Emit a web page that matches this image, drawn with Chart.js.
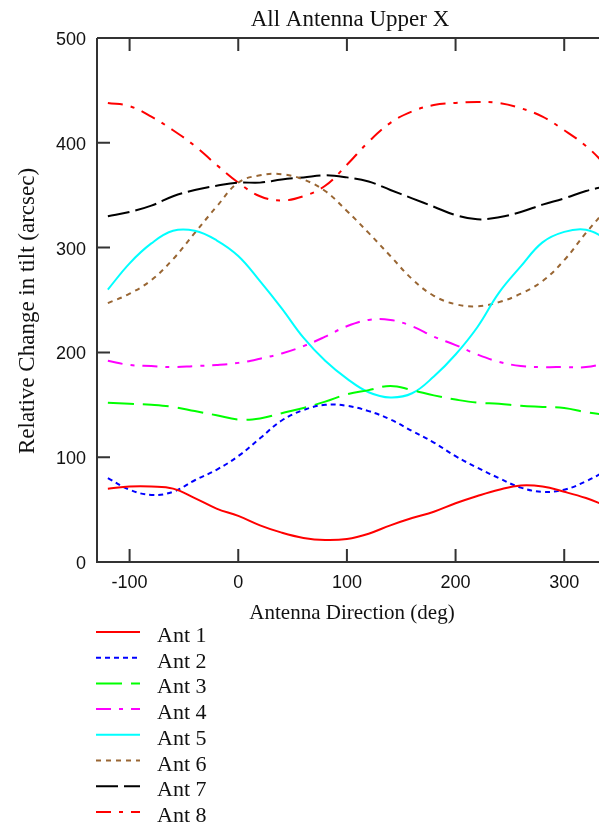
<!DOCTYPE html>
<html>
<head>
<meta charset="utf-8">
<script src="https://cdn.jsdelivr.net/npm/chart.js@4.4.1/dist/chart.umd.min.js"></script>
<style>
  html, body { margin: 0; padding: 0; background: #fff; }
  #wrap { position: relative; width: 599px; height: 823px; }
</style>
</head>
<body>
<div id="wrap"><canvas id="chart"></canvas></div>
<script>
// antenna direction (deg)
const directions = [-120, -100, -80, -60, -40, -20, 0, 20, 40, 60, 80, 100, 120, 140, 160, 180, 200, 220, 240, 260, 280, 300, 320, 340];

// relative change in tilt (arcsec)
const ant1 = [70, 72, 72, 70, 61, 51, 44, 35, 28, 23, 21, 22, 27, 35, 42, 48, 56, 63, 69, 73, 72, 67, 61, 53];
const ant2 = [80, 69, 64, 67, 78, 88, 101, 118, 135, 145, 150, 149, 144, 136, 125, 114, 101, 90, 80, 71, 67, 69, 77, 88];
const ant3 = [152, 151, 150, 148, 144, 140, 136, 137, 142, 147, 153, 160, 164, 168, 164, 159, 155, 152, 151, 149, 148, 147, 143, 140];
const ant4 = [192, 188, 187, 186, 187, 188, 190, 194, 199, 206, 215, 225, 231, 231, 225, 215, 207, 198, 191, 187, 186, 186, 186, 190];
const ant5 = [260, 285, 304, 316, 316, 307, 292, 268, 242, 214, 192, 175, 162, 157, 161, 177, 198, 224, 257, 282, 305, 315, 317, 308];
const ant6 = [247, 256, 269, 289, 314, 339, 362, 369, 370, 365, 354, 335, 314, 292, 270, 254, 246, 244, 248, 256, 268, 288, 314, 338];
const ant7 = [330, 334, 340, 349, 355, 359, 362, 362, 365, 367, 369, 367, 363, 355, 347, 339, 331, 327, 329, 334, 341, 347, 354, 359];
const ant8 = [438, 435, 425, 412, 397, 379, 362, 349, 345, 349, 359, 379, 401, 419, 430, 436, 438, 439, 438, 433, 425, 412, 397, 377];

const seriesNames = ['Ant 1', 'Ant 2', 'Ant 3', 'Ant 4', 'Ant 5', 'Ant 6', 'Ant 7', 'Ant 8'];
const seriesValues = [ant1, ant2, ant3, ant4, ant5, ant6, ant7, ant8];
const seriesColors = ['#ff0000', '#0000ff', '#00ff00', '#ff00ff', '#00ffff', '#996633', '#000000', '#ff0000'];
const seriesDashes = [[], [5, 4], [26, 9], [15, 8, 4, 8], [], [5, 5], [22, 6], [15, 8, 4, 8]];

const xTicks = [-100, 0, 100, 200, 300];
const yTicks = [0, 100, 200, 300, 400, 500];

const serif = '"Liberation Serif", "Times New Roman", serif';
const axisColor = '#333';

const datasets = seriesNames.map((name, i) => ({
  label: name,
  data: directions.map((d, j) => ({ x: d, y: seriesValues[i][j] })),
  borderColor: seriesColors[i],
  borderDash: seriesDashes[i],
  borderWidth: 2,
  pointRadius: 0,
  tension: 0.4,
  fill: false
}));

// frame, inward ticks, titles and the legend
const decorations = {
  id: 'decorations',
  afterDraw(chart) {
    const { ctx, chartArea: a, scales: { x, y } } = chart;
    ctx.save();
    ctx.strokeStyle = axisColor;
    ctx.lineWidth = 2;
    ctx.setLineDash([]);
    ctx.beginPath();
    ctx.moveTo(a.left, a.top); ctx.lineTo(a.right, a.top);
    ctx.moveTo(a.left, a.top); ctx.lineTo(a.left, a.bottom);
    ctx.lineTo(a.right, a.bottom);
    const tl = 13;
    xTicks.forEach(v => {
      const px = x.getPixelForValue(v);
      ctx.moveTo(px, a.bottom); ctx.lineTo(px, a.bottom - tl);
      ctx.moveTo(px, a.top); ctx.lineTo(px, a.top + tl);
    });
    yTicks.forEach(v => {
      const py = y.getPixelForValue(v);
      ctx.moveTo(a.left, py); ctx.lineTo(a.left + tl, py);
    });
    ctx.stroke();

    ctx.fillStyle = '#111';
    ctx.textAlign = 'center';
    ctx.textBaseline = 'alphabetic';
    const cx = (a.left + a.right) / 2;
    ctx.font = '23px ' + serif;
    ctx.fillText('All Antenna Upper X', cx + 2, 26);
    ctx.font = '21px ' + serif;
    ctx.fillText('Antenna Direction (deg)', cx + 4, 619);

    ctx.save();
    ctx.translate(34, 311);
    ctx.rotate(-Math.PI / 2);
    ctx.font = '23px ' + serif;
    ctx.fillText('Relative Change in tilt (arcsec)', 0, 0);
    ctx.restore();

    // legend
    ctx.textAlign = 'left';
    ctx.font = '22px ' + serif;
    seriesNames.forEach((name, i) => {
      const ly = 632 + i * 25.7;
      ctx.strokeStyle = seriesColors[i];
      ctx.setLineDash(seriesDashes[i]);
      ctx.lineWidth = 2;
      ctx.beginPath();
      ctx.moveTo(96, ly); ctx.lineTo(140, ly);
      ctx.stroke();
      ctx.fillStyle = '#111';
      ctx.fillText(name, 157, ly + 10);
    });
    ctx.restore();
  }
};

new Chart(document.getElementById('chart').getContext('2d'), {
  type: 'line',
  data: { datasets },
  options: {
    responsive: true,
    maintainAspectRatio: false,
    animation: false,
    layout: { padding: { top: 38, left: 0, right: 0, bottom: 0 } },
    plugins: {
      legend: { display: false },
      title: { display: false },
      tooltip: { enabled: false }
    },
    scales: {
      x: {
        type: 'linear',
        min: -130,
        max: 332,
        grid: { display: false, drawTicks: false },
        border: { display: false },
        ticks: {
          stepSize: 100,
          includeBounds: false,
          padding: 10,
          color: '#111',
          font: { family: '"Liberation Sans", Arial, sans-serif', size: 18 }
        },
        afterFit(scale) { scale.height = 261; }
      },
      y: {
        min: 0,
        max: 500,
        grid: { display: false, drawTicks: false },
        border: { display: false },
        ticks: {
          stepSize: 100,
          padding: 11,
          labelOffset: 2,
          color: '#111',
          font: { family: '"Liberation Sans", Arial, sans-serif', size: 18 }
        },
        afterFit(scale) { scale.width = 97; }
      }
    }
  },
  plugins: [decorations]
});
</script>
</body>
</html>
